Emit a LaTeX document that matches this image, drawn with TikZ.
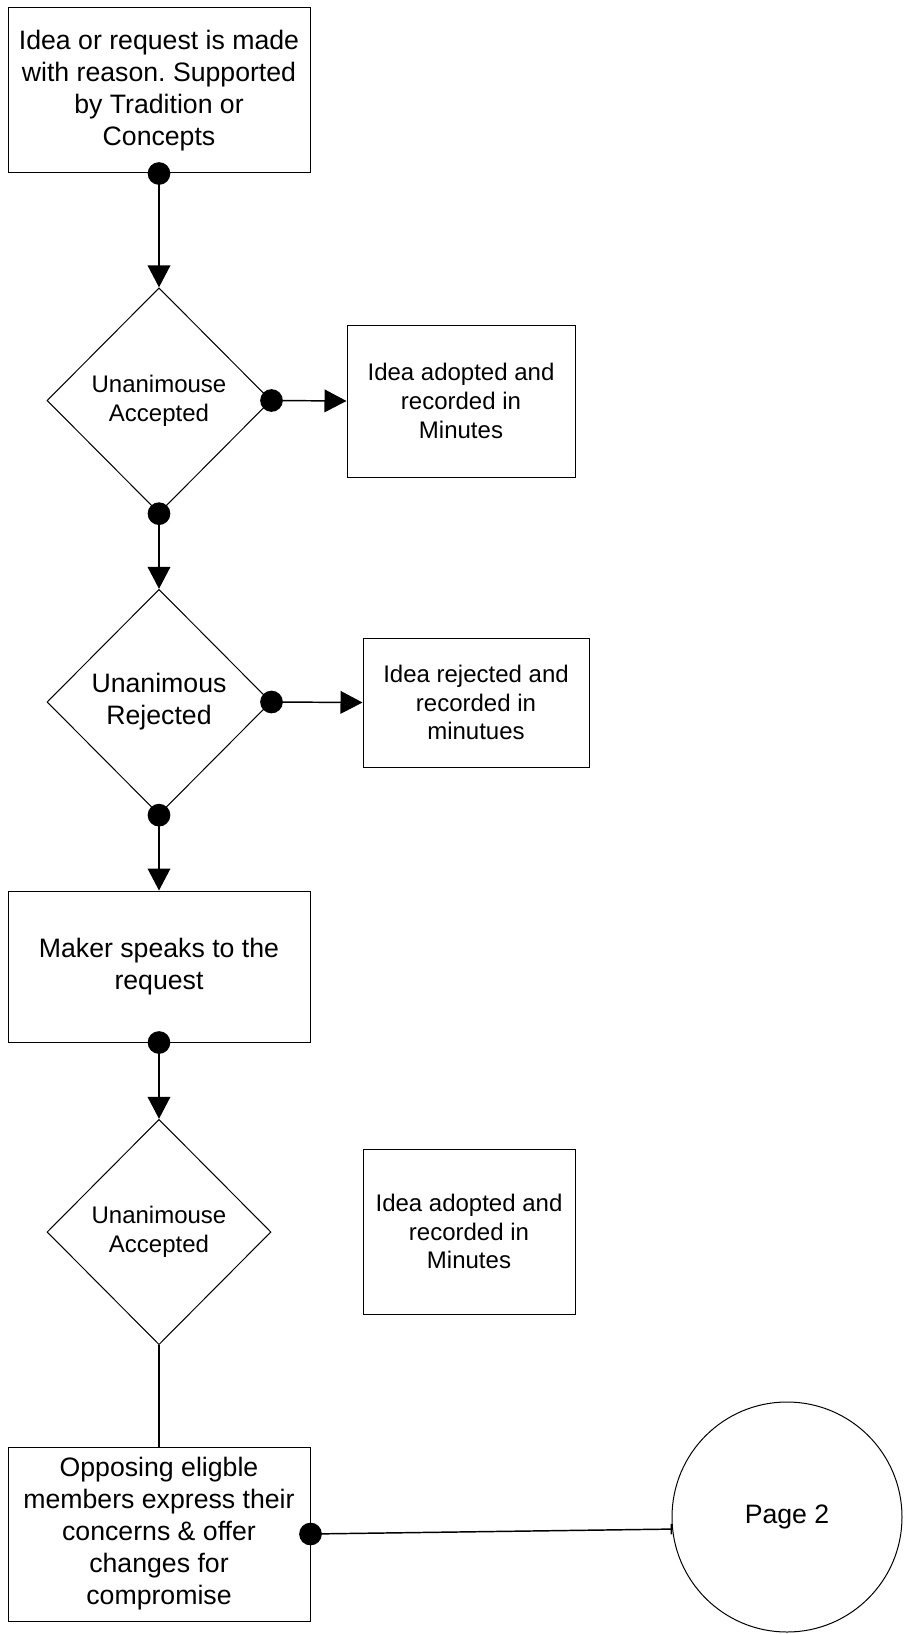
\documentclass[tikz,border=0pt]{standalone}
\usepackage{fontspec}
\setmainfont{Liberation Sans}
\usetikzlibrary{shapes.geometric,arrows.meta}
\frenchspacing

\begin{document}
\begin{tikzpicture}[x=0.75pt, y=-0.75pt,
    box/.style={rectangle, draw, line width=0.75pt, align=center, inner sep=0pt},
    bigtxt/.style={font=\fontsize{20}{24}\selectfont},
    smalltxt/.style={font=\fontsize{18}{21.5}\selectfont},
    decision/.style={diamond, draw, line width=0.75pt, align=center, inner sep=0pt, aspect=1,
                     minimum width=168pt, minimum height=169pt},
    flow/.style={line width=1.1pt, {Circle[length=17pt]}-{Triangle[length=16.5pt, width=17pt]},
                 shorten <=-8.5pt},
  ]
      %\draw [dotted] (0,0) grid[step=100] (904,1634);
      \useasboundingbox (0,0) rectangle (904,1634);
      \node [box, bigtxt, minimum width=226.5pt, minimum height=123.75pt]    (idea) at (159,   90.5) {Idea or request is made\\with reason. Supported\\by Tradition or\\Concepts};
      \node [decision, smalltxt]                                               (d1) at (159,  400.5) {Unanimouse\\Accepted};
      \node [box, smalltxt, minimum width=171pt, minimum height=114pt]         (acc1) at (461,  401)   {Idea adopted and\\recorded in\\Minutes};
      \node [decision, bigtxt]                                                 (d2) at (159,  702)   {Unanimous\\Rejected};
      \node [box, smalltxt, minimum width=169.5pt, minimum height=96.75pt]     (rej) at (476,  702.5) {Idea rejected and\\recorded in\\minutues};
      \node [box, bigtxt, minimum width=226.5pt, minimum height=113.25pt]      (mk) at (159,  966.5) {Maker speaks to the\\request};
      \node [decision, smalltxt]                                               (d3) at (159, 1232)   {Unanimouse\\Accepted};
      \node [box, smalltxt, minimum width=159pt, minimum height=123.75pt]      (acc2) at (469, 1231.5) {Idea adopted and\\recorded in\\Minutes};
      \node [box, bigtxt, minimum width=226.5pt, minimum height=130.5pt]       (op) at (159, 1534)   {Opposing eligble\\members express their\\concerns \& offer\\changes for\\compromise};
      \node [circle, draw, line width=0.75pt, bigtxt, minimum size=172.5pt]   (pg) at (787, 1517)   {Page 2};
      \draw [flow] (idea.south) -- (d1.north);
      \draw [flow] (d1.east) -- (acc1.west);
      \draw [flow] (d1.south) -- (d2.north);
      \draw [flow] (d2.east) -- (rej.west);
      \draw [flow] (d2.south) -- (mk.north);
      \draw [flow] (mk.south) -- (d3.north);
      \draw [line width=1.1pt] (d3.south) -- (op.north);
      \draw [line width=1.1pt, {Circle[length=17pt]}-{Bar[width=8pt]}, shorten <=-8.5pt] (op.east) -- (pg.186);
\end{tikzpicture}
\end{document}
